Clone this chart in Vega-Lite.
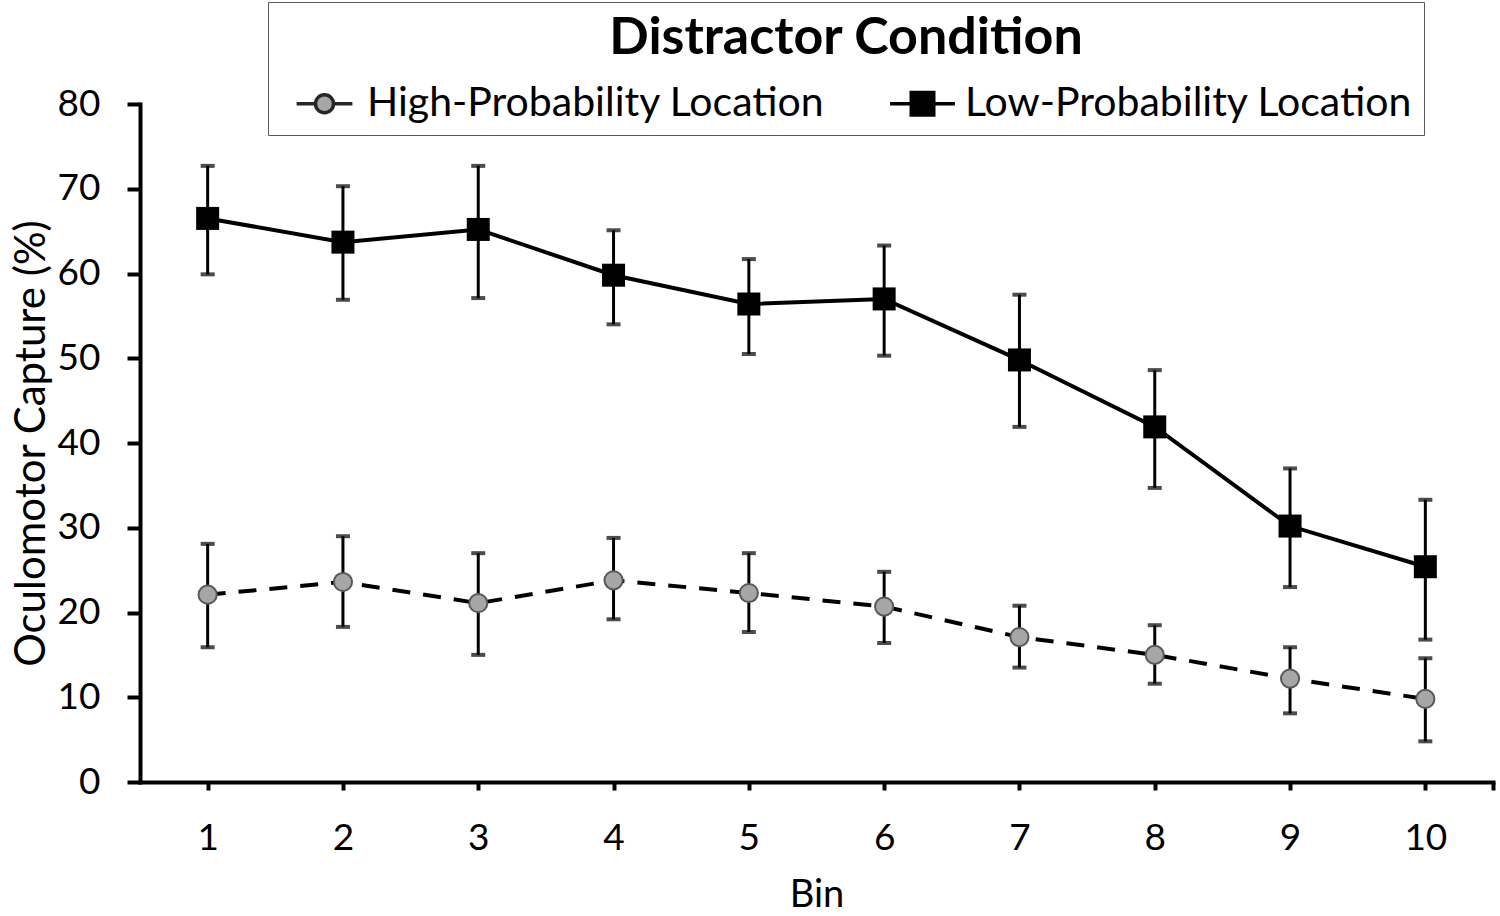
{
  "$schema": "https://vega.github.io/schema/vega-lite/v6.json",
  "width": 1353,
  "height": 678,
  "autosize": {"type": "none"},
  "padding": {"left": 140, "top": 104, "right": 7, "bottom": 134},
  "background": "white",
  "config": {
    "view": {"stroke": null},
    "font": "Lato",
    "axis": {
      "grid": false,
      "domainColor": "black",
      "domainWidth": 4,
      "domainCap": "square",
      "tickColor": "black",
      "tickWidth": 4,
      "labelColor": "black",
      "titleColor": "black",
      "labelFont": "Lato",
      "titleFont": "Lato",
      "labelFontSize": 37,
      "titleFontSize": 38,
      "titleFontWeight": "normal"
    }
  },
  "data": {
    "values": [
      {"bin": 1, "series": "High-Probability Location", "mean": 22.1, "lo": 15.9, "hi": 28.1},
      {"bin": 2, "series": "High-Probability Location", "mean": 23.6, "lo": 18.3, "hi": 29.0},
      {"bin": 3, "series": "High-Probability Location", "mean": 21.1, "lo": 15.0, "hi": 27.0},
      {"bin": 4, "series": "High-Probability Location", "mean": 23.8, "lo": 19.2, "hi": 28.8},
      {"bin": 5, "series": "High-Probability Location", "mean": 22.3, "lo": 17.7, "hi": 27.0},
      {"bin": 6, "series": "High-Probability Location", "mean": 20.7, "lo": 16.4, "hi": 24.8},
      {"bin": 7, "series": "High-Probability Location", "mean": 17.1, "lo": 13.5, "hi": 20.8},
      {"bin": 8, "series": "High-Probability Location", "mean": 15.0, "lo": 11.6, "hi": 18.5},
      {"bin": 9, "series": "High-Probability Location", "mean": 12.2, "lo": 8.1, "hi": 15.9},
      {"bin": 10, "series": "High-Probability Location", "mean": 9.8, "lo": 4.8, "hi": 14.6},
      {"bin": 1, "series": "Low-Probability Location", "mean": 66.5, "lo": 59.9, "hi": 72.7},
      {"bin": 2, "series": "Low-Probability Location", "mean": 63.7, "lo": 56.9, "hi": 70.3},
      {"bin": 3, "series": "Low-Probability Location", "mean": 65.2, "lo": 57.1, "hi": 72.7},
      {"bin": 4, "series": "Low-Probability Location", "mean": 59.8, "lo": 54.0, "hi": 65.1},
      {"bin": 5, "series": "Low-Probability Location", "mean": 56.4, "lo": 50.5, "hi": 61.7},
      {"bin": 6, "series": "Low-Probability Location", "mean": 57.0, "lo": 50.3, "hi": 63.3},
      {"bin": 7, "series": "Low-Probability Location", "mean": 49.8, "lo": 41.9, "hi": 57.5},
      {"bin": 8, "series": "Low-Probability Location", "mean": 41.9, "lo": 34.7, "hi": 48.6},
      {"bin": 9, "series": "Low-Probability Location", "mean": 30.2, "lo": 23.0, "hi": 37.0},
      {"bin": 10, "series": "Low-Probability Location", "mean": 25.4, "lo": 16.8, "hi": 33.3}
    ]
  },
  "encoding": {
    "x": {
      "field": "bin",
      "type": "quantitative",
      "scale": {"domain": [0.5, 10.5], "nice": false, "zero": false},
      "axis": {
        "title": "Bin",
        "values": [1, 2, 3, 4, 5, 6, 7, 8, 9, 10, 10.5],
        "labelExpr": "datum.value == 10.5 ? '' : datum.label",
        "tickSize": 8,
        "labelPadding": 30,
        "titlePadding": 20,
        "labelFlush": false,
        "labelOverlap": false
      }
    }
  },
  "layer": [
    {
      "mark": {"type": "errorbar", "color": "black", "ticks": {"size": 14, "thickness": 4, "color": "black"}, "rule": {"strokeWidth": 3, "color": "black"}},
      "encoding": {
        "y": {
          "field": "lo",
          "type": "quantitative",
          "scale": {"domain": [0, 80], "nice": false, "zero": false},
          "axis": {
            "title": "Oculomotor Capture (%)",
            "titleFontSize": 42,
            "values": [0, 10, 20, 30, 40, 50, 60, 70, 80],
            "tickSize": 13,
            "labelPadding": 27,
            "titlePadding": 4
          }
        },
        "y2": {"field": "hi"},
        "detail": {"field": "series", "type": "nominal"}
      }
    },
    {
      "transform": [{"filter": "datum.series == 'High-Probability Location'"}],
      "mark": {"type": "line", "color": "black", "strokeWidth": 4, "strokeDash": [18, 13]},
      "encoding": {
        "y": {"field": "mean", "type": "quantitative", "title": "Oculomotor Capture (%)"}
      }
    },
    {
      "transform": [{"filter": "datum.series == 'Low-Probability Location'"}],
      "mark": {"type": "line", "color": "black", "strokeWidth": 4},
      "encoding": {
        "y": {"field": "mean", "type": "quantitative", "title": "Oculomotor Capture (%)"}
      }
    },
    {
      "transform": [{"filter": "datum.series == 'High-Probability Location'"}],
      "mark": {"type": "point", "shape": "circle", "filled": true, "fill": "#a6a6a6", "stroke": "#595959", "strokeWidth": 2, "size": 330, "opacity": 1},
      "encoding": {
        "y": {"field": "mean", "type": "quantitative", "title": "Oculomotor Capture (%)"}
      }
    },
    {
      "transform": [{"filter": "datum.series == 'Low-Probability Location'"}],
      "mark": {"type": "square", "color": "black", "size": 529, "opacity": 1},
      "encoding": {
        "y": {"field": "mean", "type": "quantitative", "title": "Oculomotor Capture (%)"}
      }
    },
    {
      "transform": [{"filter": "datum.bin > 100"}],
      "mark": {"type": "point", "filled": true, "size": 324, "opacity": 1, "strokeWidth": 3.5},
      "encoding": {
        "y": {"field": "mean", "type": "quantitative", "title": "Oculomotor Capture (%)"},
        "shape": {
          "field": "series",
          "type": "nominal",
          "title": "Distractor Condition",
          "scale": {
            "domain": ["High-Probability Location", "Low-Probability Location"],
            "range": [
              "M-3.1,0L-1,0M1,0L3.1,0M1,0A1,1,0,1,1,-1,0A1,1,0,1,1,1,0Z",
              "M-3.6,0L-1.25,0M1.25,0L3.6,0M-1.25,-1.25L1.25,-1.25L1.25,1.25L-1.25,1.25Z"
            ]
          },
          "legend": {
            "orient": "none",
            "legendX": 128,
            "legendY": -102,
            "direction": "horizontal",
            "columns": 2,
            "titleAnchor": "middle",
            "titleFontSize": 52,
            "titleFontWeight": "bold",
            "titleColor": "black",
            "titleFont": "Lato",
            "titleLimit": 1200,
            "titlePadding": 18,
            "labelFontSize": 41,
            "labelFont": "Lato",
            "labelColor": "black",
            "labelLimit": 0,
            "strokeColor": "#595959",
            "padding": 11,
            "symbolSize": 324,
            "symbolStrokeWidth": 3.5,
            "symbolOpacity": 1,
            "symbolOffset": 25,
            "labelOffset": 22,
            "columnPadding": 52,
            "encode": {"legend": {"update": {"strokeWidth": {"value": 2}}}}
          }
        },
        "fill": {
          "field": "series",
          "type": "nominal",
          "title": "Distractor Condition",
          "scale": {"domain": ["High-Probability Location", "Low-Probability Location"], "range": ["#a6a6a6", "black"]}
        },
        "stroke": {
          "field": "series",
          "type": "nominal",
          "title": "Distractor Condition",
          "scale": {"domain": ["High-Probability Location", "Low-Probability Location"], "range": ["#262626", "black"]}
        }
      }
    }
  ]
}
